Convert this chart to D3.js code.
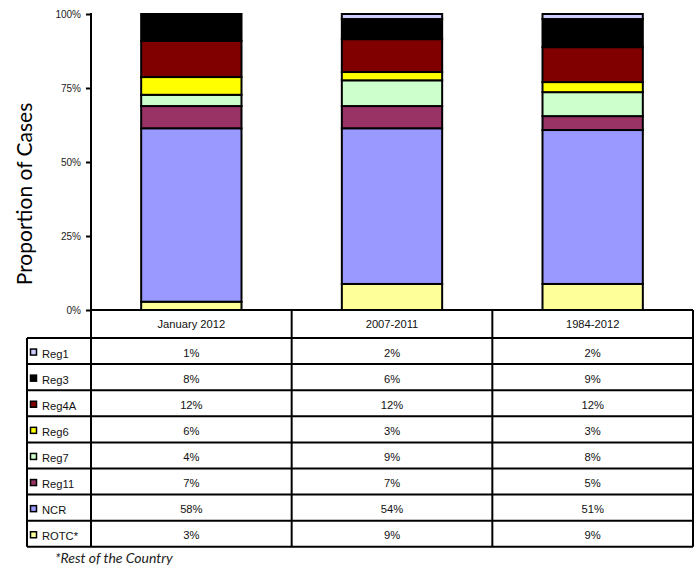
<!DOCTYPE html>
<html><head><meta charset="utf-8">
<script src="https://cdn.jsdelivr.net/npm/d3@7"></script>
<style>body{margin:0;background:#fff}svg{display:block}</style>
</head><body>
<svg id="c" width="700" height="568"></svg>
<script>
const categories = ["January 2012", "2007-2011", "1984-2012"];
const seriesNames = ["Reg1", "Reg3", "Reg4A", "Reg6", "Reg7", "Reg11", "NCR", "ROTC*"];
const seriesColors = ["#CCCCFF", "#000000", "#800000", "#FFFF00", "#CCFFCC", "#993366", "#9999FF", "#FFFF99"];
// Bar segment shares (%), per category
const reg1  = [0.0, 1.7, 1.7];
const reg3  = [9.1, 6.8, 9.5];
const reg4a = [12.2, 11.1, 11.8];
const reg6  = [6.0, 2.8, 3.4];
const reg7  = [3.8, 8.7, 8.1];
const reg11 = [7.5, 7.5, 4.7];
const ncr   = [58.6, 52.6, 52.0];
const rotc  = [2.8, 8.8, 8.8];
// Table labels
const tReg1  = ["1%", "2%", "2%"];
const tReg3  = ["8%", "6%", "9%"];
const tReg4a = ["12%", "12%", "12%"];
const tReg6  = ["6%", "3%", "3%"];
const tReg7  = ["4%", "9%", "8%"];
const tReg11 = ["7%", "7%", "5%"];
const tNcr   = ["58%", "54%", "51%"];
const tRotc  = ["3%", "9%", "9%"];
const yTicks = [0, 25, 50, 75, 100];
const yTitle = "Proportion of Cases";
const footnote = "*Rest of the Country";

(function () {
const series = [reg1, reg3, reg4a, reg6, reg7, reg11, ncr, rotc];
const tableVals = [tReg1, tReg3, tReg4a, tReg6, tReg7, tReg11, tNcr, tRotc];

const svg = d3.select("#c");
const pLeft = 91, pRight = 693, pTop = 14, pBottom = 310;
const x = d3.scaleBand().domain(categories).range([pLeft, pRight]).paddingInner(0).paddingOuter(0);
const y = d3.scaleLinear().domain([0, 100]).range([pBottom, pTop]);
const barW = x.bandwidth() * 0.5;

const rows = categories.map((c, i) => {
  const o = {cat: c};
  seriesNames.forEach((s, k) => o[s] = series[k][i]);
  return o;
});
const stackKeys = seriesNames.slice().reverse();
const stacked = d3.stack().keys(stackKeys)(rows);

const g = svg.append("g");
stacked.forEach(layer => {
  const col = seriesColors[seriesNames.indexOf(layer.key)];
  g.selectAll(null).data(layer.filter(d => d[1] - d[0] > 0)).enter().append("rect")
    .attr("x", d => x(d.data.cat) + (x.bandwidth() - barW) / 2)
    .attr("width", barW)
    .attr("y", d => y(d[1]))
    .attr("height", d => y(d[0]) - y(d[1]))
    .attr("fill", col)
    .attr("stroke", "#000")
    .attr("stroke-width", 2);
});

const yAxis = d3.axisLeft(y).tickValues(yTicks).tickFormat(d => d + "%").tickSize(5).tickPadding(5);
const ya = svg.append("g").attr("transform", `translate(${pLeft},0)`).call(yAxis);
ya.select(".domain").remove();
ya.selectAll(".tick line").attr("stroke", "#000").attr("stroke-width", 2);
ya.selectAll(".tick text").attr("font-family", "Liberation Sans, Arial, sans-serif").attr("font-size", 10).attr("fill", "#222");
svg.append("line").attr("x1", pLeft).attr("x2", pLeft).attr("y1", pTop - 1).attr("y2", 547)
  .attr("stroke", "#000").attr("stroke-width", 2);

svg.append("text")
  .attr("transform", `translate(32,194) rotate(-90)`)
  .attr("text-anchor", "middle")
  .attr("font-family", "Lato, 'Open Sans', sans-serif")
  .attr("font-size", 21)
  .attr("fill", "#000")
  .text(yTitle);

const headerH = 28, rowH = 26.1, tableLeft = 27;
const tableTop = pBottom;
const rowsTop = tableTop + headerH;
const tableBottom = rowsTop + rowH * seriesNames.length;
const lineAttrs = sel => sel.attr("stroke", "#000").attr("stroke-width", 2);

const tg = svg.append("g");
lineAttrs(tg.append("line").attr("x1", pLeft).attr("x2", pRight).attr("y1", tableTop).attr("y2", tableTop));
for (let r = 0; r <= seriesNames.length; r++) {
  const yy = rowsTop + r * rowH;
  lineAttrs(tg.append("line").attr("x1", tableLeft).attr("x2", pRight).attr("y1", yy).attr("y2", yy));
}
lineAttrs(tg.append("line").attr("x1", tableLeft).attr("x2", tableLeft).attr("y1", rowsTop).attr("y2", tableBottom));
categories.forEach(c => {
  lineAttrs(tg.append("line").attr("x1", x(c) + x.bandwidth()).attr("x2", x(c) + x.bandwidth()).attr("y1", tableTop).attr("y2", tableBottom));
});
tg.selectAll(null).data(categories).enter().append("text")
  .attr("x", d => x(d) + x.bandwidth() / 2)
  .attr("y", tableTop + headerH / 2 + 4)
  .attr("text-anchor", "middle")
  .attr("font-family", "Liberation Sans, Arial, sans-serif")
  .attr("font-size", 11.2).attr("fill", "#111")
  .text(d => d);
seriesNames.forEach((s, k) => {
  const cy = rowsTop + k * rowH + rowH / 2;
  tg.append("rect").attr("x", 30.5).attr("y", cy - 2).attr("width", 6).attr("height", 6)
    .attr("fill", seriesColors[k]).attr("stroke", "#000").attr("stroke-width", 1.5);
  tg.append("text").attr("x", 42).attr("y", cy + 6.5)
    .attr("font-family", "Liberation Sans, Arial, sans-serif")
    .attr("font-size", 11.2).attr("fill", "#111").text(s);
  categories.forEach((c, i) => {
    tg.append("text").attr("x", x(c) + x.bandwidth() / 2).attr("y", cy + 5.5)
      .attr("text-anchor", "middle")
      .attr("font-family", "Liberation Sans, Arial, sans-serif")
      .attr("font-size", 11.2).attr("fill", "#111").text(tableVals[k][i]);
  });
});

svg.append("text").attr("x", 55).attr("y", 563)
  .attr("font-family", "Lato, 'Open Sans', sans-serif")
  .attr("font-style", "italic").attr("font-size", 14).attr("fill", "#222")
  .text(footnote);
})();
</script>
</body></html>
